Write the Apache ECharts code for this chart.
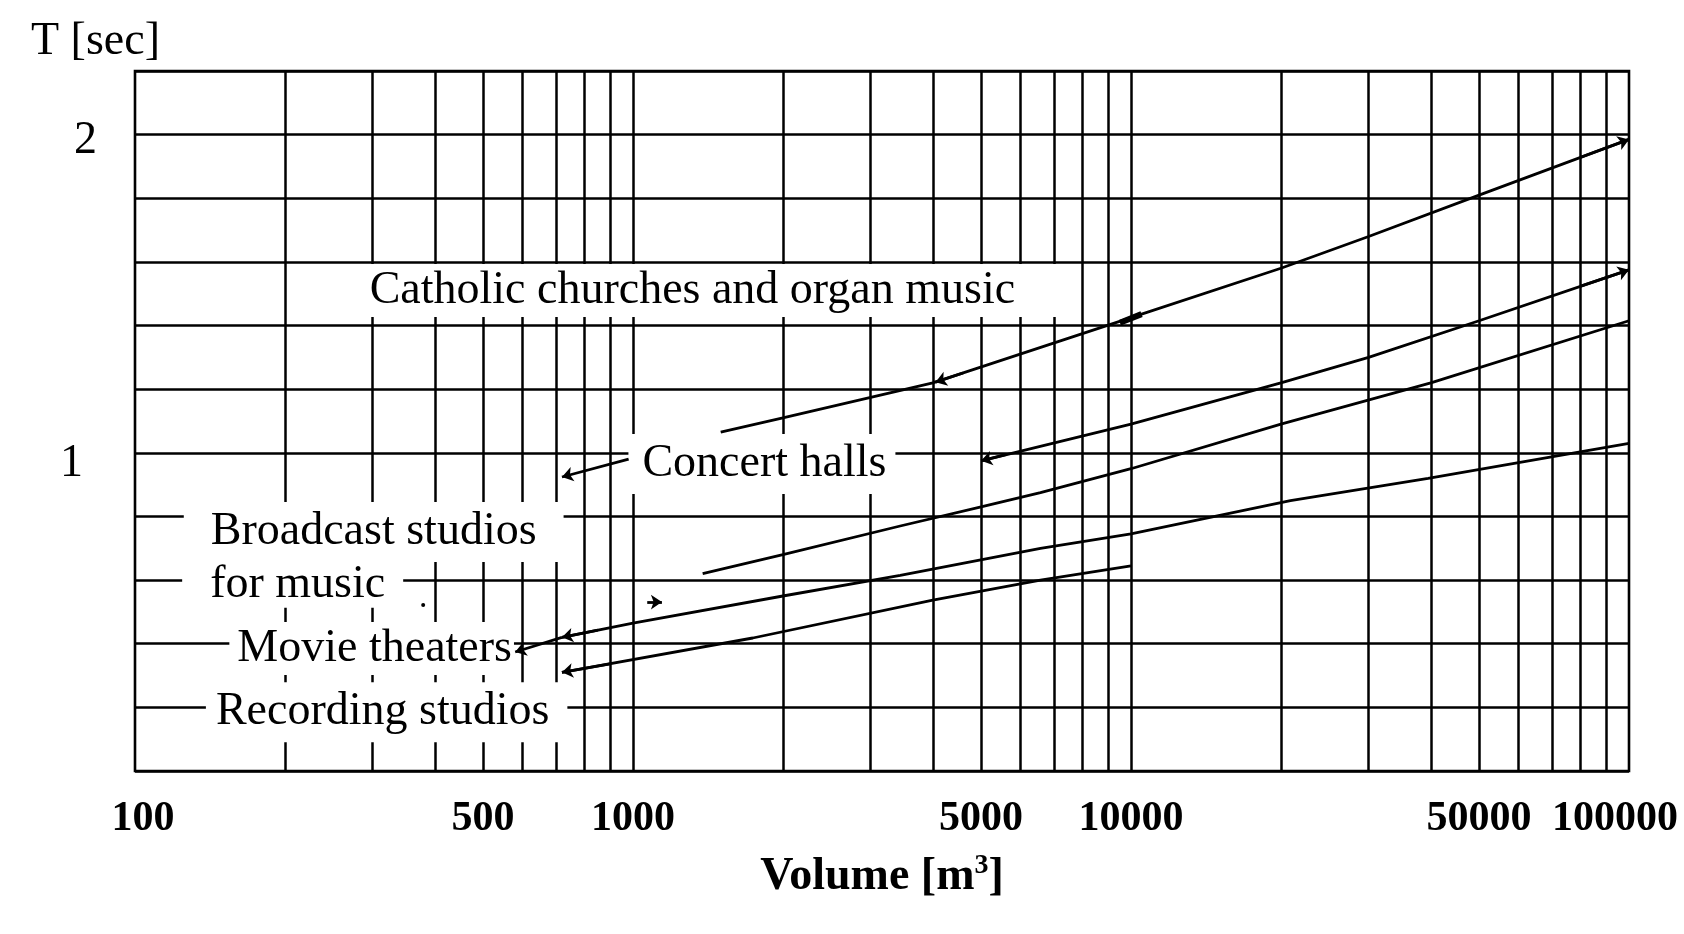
<!DOCTYPE html>
<html>
<head>
<meta charset="utf-8">
<title>Reverberation time vs. room volume</title>
<script src="https://cdn.jsdelivr.net/npm/echarts@6/dist/echarts.min.js"></script>
<style>
  html, body { margin: 0; padding: 0; background: #fff; }
  #chart-container { width: 1684px; height: 934px; }
</style>
</head>
<body>
<div id="chart-container"></div>
<script>
// axis values
var volumeTicks = [100, 500, 1000, 5000, 10000, 50000, 100000];
var volumeGrid = [200, 300, 400, 500, 600, 700, 800, 900, 1000,
    2000, 3000, 4000, 5000, 6000, 7000, 8000, 9000, 10000,
    20000, 30000, 40000, 50000, 60000, 70000, 80000, 90000];

// curves: [volume m3, T sec]
var churchCurve = [[1500, 1.065], [2000, 1.11], [4000, 1.22], [10000, 1.425], [20000, 1.58], [30000, 1.68], [50000, 1.81], [100000, 1.985]];
var concertCurve = [[5000, 0.975], [10000, 1.09], [20000, 1.22], [30000, 1.30], [50000, 1.415], [100000, 1.575]];
var broadcastCurve = [[1380, 0.62], [2000, 0.68], [3440, 0.77], [5000, 0.83], [6580, 0.875], [10000, 0.95], [20000, 1.09], [40000, 1.22], [100000, 1.415]];
var movieCurve = [[720, 0.42], [1000, 0.465], [2000, 0.55], [3440, 0.615], [6580, 0.70], [10000, 0.745], [20900, 0.85], [39500, 0.92], [60400, 0.97], [100000, 1.03]];
var recordingCurve = [[720, 0.31], [1740, 0.418], [4000, 0.537], [6580, 0.60], [10000, 0.645]];

// arrow segments, arrow head at the first point
var arrowSegments = [
    [[5000, 0.975], [5600, 0.994]],
    [[720, 0.42], [850, 0.443]],
    [[580, 0.374], [720, 0.42]],
    [[720, 0.31], [900, 0.337]],
    [[720, 0.924], [980, 0.98]],
    [[100000, 1.985], [80000, 1.929]],
    [[100000, 1.575], [80000, 1.524]],
    [[4050, 1.222], [4600, 1.251]],
    [[1143, 0.531], [1068, 0.531]]
];
var blobSegment = [[9500, 1.409], [10500, 1.436]];
var strayDots = [[379, 0.522]];

// annotations
var noteTexts = ['Catholic churches and organ music', 'Concert halls', 'Broadcast studios', 'for music', 'Movie theaters', 'Recording studios'];
var noteVolumes = [1245, 1815, 301.5, 207.3, 298.7, 320.1];
var noteTimes = [1.510, 0.965, 0.751, 0.585, 0.385, 0.185];

// white box padding around each annotation
var notePadding = [[4, 50, 3, 74], [7, 9, 7, 14], [7, 27, 7, 27], [0, 18, 0, 28], [4, 2, 3, 8], [7, 18, 7, 10]];

var FONT = '"Liberation Serif", "Times New Roman", serif';

var myChart = echarts.init(document.getElementById('chart-container'));

function curveSeries(name, data) {
    return {
        name: name,
        type: 'line',
        data: data,
        z: 4,
        symbol: 'none',
        silent: true,
        lineStyle: { color: '#000', width: 2.8 }
    };
}

var option = {
    animation: false,
    backgroundColor: '#fff',
    grid: {
        left: 135,
        right: 55,
        top: 71,
        bottom: 163,
        show: true,
        borderColor: '#000',
        borderWidth: 2.6,
        outerBoundsMode: 'none'
    },
    xAxis: {
        type: 'log',
        logBase: 10,
        min: 100,
        max: 100000,
        axisLine: { show: false },
        axisTick: { show: false },
        splitLine: { show: false },
        axisLabel: {
            customValues: volumeTicks,
            margin: 27,
            fontFamily: FONT,
            fontWeight: 'bold',
            fontSize: 42,
            color: '#000',
            formatter: function (v) {
                if (v === 100) return '{first|100}';
                if (v === 100000) return '{last|100000}';
                return String(v);
            },
            rich: {
                first: { fontFamily: FONT, fontWeight: 'bold', fontSize: 42, color: '#000', padding: [0, 0, 0, 16] },
                last: { fontFamily: FONT, fontWeight: 'bold', fontSize: 42, color: '#000', padding: [0, 28, 0, 0] }
            }
        },
        name: '{a|Volume [m}{s|3}{a|]}',
        nameLocation: 'middle',
        nameGap: 81,
        nameTextStyle: {
            rich: {
                a: { fontFamily: FONT, fontWeight: 'bold', fontSize: 46, color: '#000' },
                s: { fontFamily: FONT, fontWeight: 'bold', fontSize: 28, color: '#000', padding: [0, 0, 22, 0] }
            }
        }
    },
    yAxis: {
        type: 'value',
        min: 0,
        max: 2.2,
        interval: 0.2,
        axisLine: { show: false },
        axisTick: { show: false },
        splitLine: { show: true, lineStyle: { color: '#000', width: 2.5 } },
        axisLabel: {
            margin: 38,
            fontFamily: FONT,
            fontSize: 46,
            color: '#000',
            formatter: function (v) {
                if (Math.abs(v - 2) < 1e-6) return '{two|2}';
                if (Math.abs(v - 1) < 1e-6) return '{one|1}';
                return '';
            },
            rich: {
                two: { fontFamily: FONT, fontSize: 46, color: '#000', padding: [12, 0, 0, 0] },
                one: { fontFamily: FONT, fontSize: 46, color: '#000', padding: [22, 14, 0, 0] }
            }
        },
        name: 'T [sec]',
        nameLocation: 'end',
        nameGap: 6,
        nameTextStyle: {
            fontFamily: FONT,
            fontSize: 46,
            color: '#000',
            padding: [0, 79, 0, 0]
        }
    },
    series: [
        {
            // vertical grid lines at 2..9 of every decade
            name: 'grid',
            type: 'line',
            data: [],
            silent: true,
            markLine: {
                z: 1,
                silent: true,
                symbol: ['none', 'none'],
                label: { show: false },
                lineStyle: { type: 'solid', color: '#000', width: 2.5 },
                data: volumeGrid.map(function (v) { return { xAxis: v }; })
            }
        },
        curveSeries('Catholic churches and organ music', churchCurve),
        curveSeries('Concert halls', concertCurve),
        curveSeries('Broadcast studios for music', broadcastCurve),
        curveSeries('Movie theaters', movieCurve),
        curveSeries('Recording studios', recordingCurve),
        {
            name: 'arrows',
            type: 'line',
            data: [],
            silent: true,
            markLine: {
                z: 6,
                silent: true,
                symbol: ['arrow', 'none'],
                symbolSize: 11,
                label: { show: false },
                lineStyle: { type: 'solid', color: '#000', width: 2.8 },
                data: arrowSegments.map(function (s) {
                    return [{ coord: s[0] }, { coord: s[1] }];
                }).concat([[
                    { coord: blobSegment[0], symbol: 'none', lineStyle: { width: 6 } },
                    { coord: blobSegment[1], symbol: 'none' }
                ]])
            }
        },
        {
            name: 'dots',
            type: 'scatter',
            data: strayDots,
            silent: true,
            symbolSize: 4,
            itemStyle: { color: '#000', opacity: 1 }
        },
        {
            name: 'notes',
            type: 'scatter',
            z: 3,
            silent: true,
            symbolSize: 0,
            itemStyle: { color: 'rgba(0,0,0,0)', opacity: 1 },
            label: {
                show: true,
                position: 'inside',
                formatter: '{b}',
                fontFamily: FONT,
                fontSize: 46,
                lineHeight: 46,
                color: '#000',
                opacity: 1,
                backgroundColor: '#fff'
            },
            data: noteTexts.map(function (t, i) {
                return {
                    name: t,
                    value: [noteVolumes[i], noteTimes[i]],
                    label: { padding: notePadding[i] }
                };
            })
        }
    ]
};

myChart.setOption(option);
</script>
</body>
</html>
